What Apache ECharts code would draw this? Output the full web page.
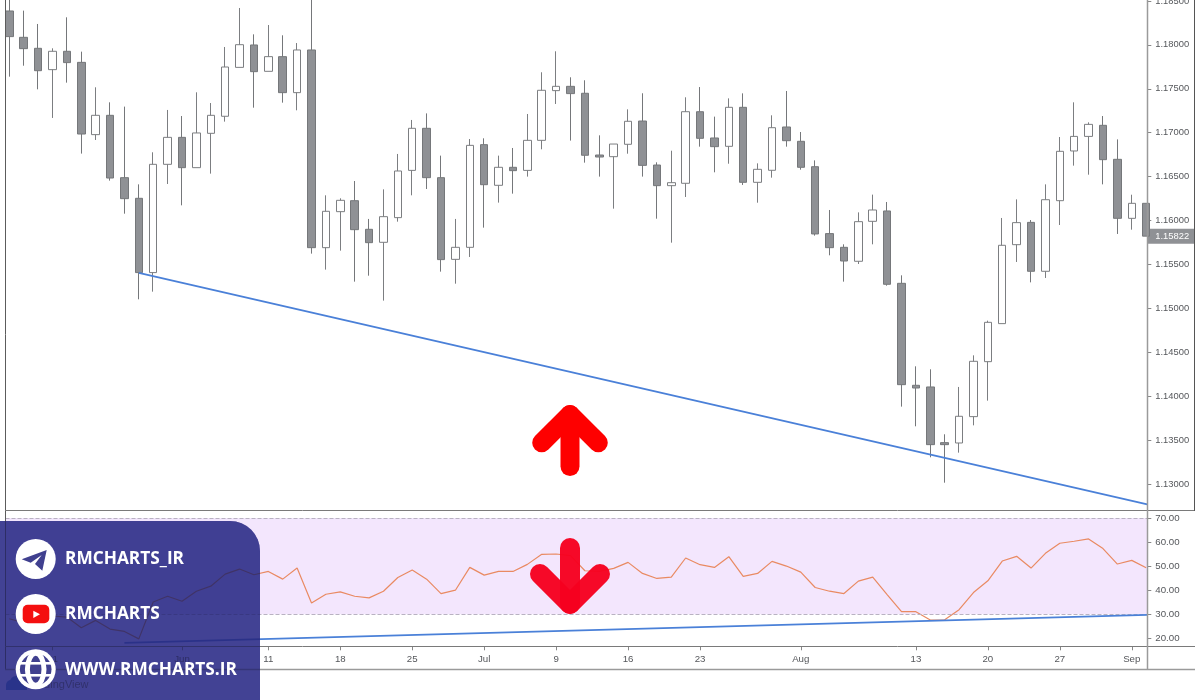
<!DOCTYPE html>
<html><head><meta charset="utf-8">
<style>html,body{margin:0;padding:0;background:#fff}#c{width:1200px;height:700px}</style>
<script src="https://cdn.jsdelivr.net/npm/echarts@6/dist/echarts.min.js"></script>
</head><body><div id="c"></div>
<script>
const opens=[1.18386,1.18086,1.17961,1.17718,1.17927,1.17801,1.16978,1.17198,1.16488,1.16253,
1.15407,1.16640,1.16947,1.16602,1.16993,1.17187,1.17744,1.17999,1.17699,1.17866,
1.17456,1.17942,1.15691,1.16101,1.16226,1.15900,1.15752,1.16033,1.16571,1.17050,
1.16488,1.15558,1.15695,1.16864,1.16401,1.16606,1.16571,1.16913,1.17479,1.17528,
1.17449,1.16746,1.16727,1.16868,1.17133,1.16632,1.16397,1.16424,1.17239,1.16940,
1.16845,1.17289,1.16435,1.16572,1.17065,1.16902,1.16613,1.15851,1.15695,1.15536,
1.15991,1.16109,1.15285,1.14124,1.14105,1.13471,1.13467,1.13767,1.14393,1.14826,
1.15725,1.15979,1.15422,1.16226,1.16792,1.16958,1.17084,1.16697,1.16025,1.16196];
const closes=[1.18094,1.17957,1.17706,1.17927,1.17798,1.16985,1.17198,1.16484,1.16249,1.15407,
1.16640,1.16947,1.16602,1.16997,1.17198,1.17748,1.18002,1.17695,1.17866,1.17456,
1.17942,1.15691,1.16105,1.16230,1.15896,1.15748,1.16044,1.16564,1.17050,1.16488,
1.15555,1.15695,1.16856,1.16408,1.16606,1.16568,1.16913,1.17483,1.17528,1.17445,
1.16743,1.16723,1.16871,1.17130,1.16628,1.16397,1.16431,1.17239,1.16936,1.16841,
1.17289,1.16435,1.16583,1.17057,1.16909,1.16606,1.15847,1.15691,1.15539,1.15987,
1.16120,1.15274,1.14131,1.14093,1.13448,1.13448,1.13771,1.14397,1.14841,1.15718,
1.15976,1.15422,1.16237,1.16788,1.16958,1.17095,1.16693,1.16025,1.16196,1.15822];
const lows=[1.17638,1.17763,1.17494,1.17168,1.17570,1.16762,1.16917,1.16454,1.16078,1.15103,
1.15190,1.16416,1.16173,1.16602,1.16534,1.17126,1.17744,1.17285,1.17699,1.17342,
1.17255,1.15623,1.15441,1.15657,1.15304,1.15372,1.15088,1.15987,1.16287,1.16359,
1.15418,1.15281,1.15585,1.15919,1.16204,1.16306,1.16500,1.16811,1.17327,1.16910,
1.16659,1.16500,1.16135,1.16761,1.16500,1.16021,1.15748,1.16268,1.16841,1.16549,
1.16647,1.16405,1.16203,1.16488,1.16841,1.16579,1.15828,1.15604,1.15304,1.15505,
1.15729,1.15258,1.13881,1.13657,1.13304,1.13015,1.13357,1.13668,1.13949,1.14826,
1.15528,1.15296,1.15346,1.15949,1.16625,1.16522,1.16412,1.15847,1.15896,1.15822];
const highs=[1.18600,1.18390,1.18238,1.17961,1.18314,1.17923,1.17517,1.17346,1.17297,1.16412,
1.16777,1.17259,1.17190,1.17460,1.17338,1.17976,1.18420,1.18120,1.18226,1.18109,
1.18021,1.18600,1.16287,1.16253,1.16450,1.16018,1.16355,1.16758,1.17145,1.17220,
1.16739,1.16018,1.16928,1.16936,1.16739,1.16826,1.17213,1.17688,1.17927,1.17631,
1.17597,1.16970,1.16871,1.17266,1.17449,1.16663,1.16795,1.17403,1.17520,1.17183,
1.17391,1.17448,1.16651,1.17198,1.17475,1.17008,1.16685,1.16120,1.15729,1.16093,
1.16295,1.16211,1.15376,1.14340,1.14306,1.13566,1.14105,1.14465,1.14860,1.16029,
1.16241,1.16006,1.16412,1.16951,1.17346,1.17118,1.17190,1.16924,1.16294,1.16196];
const rsi=[28.13,26.46,28.83,29.25,28.83,24.36,27.43,23.81,22.83,19.76,
35.10,37.48,35.38,39.57,41.66,46.68,48.78,46.40,47.80,44.59,
49.19,34.69,38.31,39.29,37.48,36.78,39.57,45.29,48.36,44.59,
38.59,39.99,49.47,46.26,47.80,47.80,50.73,54.91,55.05,54.36,
48.08,47.80,49.05,51.57,46.96,44.87,45.43,53.38,50.59,49.47,
53.94,45.71,46.96,51.98,50.03,47.52,41.10,39.57,38.59,43.75,
45.43,38.17,31.06,31.06,27.57,27.71,31.90,39.01,43.89,52.12,
54.08,49.19,55.33,59.52,60.35,61.33,57.29,50.87,52.40,49.33];
const timeTickIndex=[3,12,18,23,28,33,38,43,48,55,63,68,73,78];
const timeTickLabels=['21','Jun','11','18','25','Jul','9','16','23','Aug','13','20','27','Sep'];
const priceTicks=[1.13,1.135,1.14,1.145,1.15,1.155,1.16,1.165,1.17,1.175,1.18,1.185];
const rsiTicks=[20,30,40,50,60,70];
const lastPrice=1.15822;
const upperTrend=[[9,1.15403],[79.08,1.12767]];
const lowerTrend=[[8,18.1],[79.08,29.7]];
const rsiBand=[30,70];

const GREY='#7c7e81', TXT='#55575b', XMIN=-0.264, XMAX=79.08, FS=9.4;
const font='"Liberation Sans",Arial,sans-serif';
const xBase={type:'value',min:XMIN,max:XMAX,splitLine:{show:false},axisLine:{show:false,onZero:false}};
const line=(x1,y1,x2,y2,c,w)=>({type:'line',z:20,shape:{x1,y1,x2,y2},style:{stroke:c,lineWidth:w||1}});
const poly=(pts,c,w,op)=>({type:'polyline',z:40,shape:{points:pts},style:{stroke:c,lineWidth:w,lineCap:'round',lineJoin:'round',fill:null,opacity:op||1}});
const label=(t,y)=>({type:'text',z:60,style:{text:t,x:65,y,fill:'#fff',font:'700 17.3px "Open Sans",sans-serif',textVerticalAlign:'middle'}});
const blob=(cx,cy,r)=>({type:'circle',z:30,shape:{cx,cy,r},style:{fill:'#3f8ade'}});

const chart=echarts.init(document.getElementById('c'),null,{renderer:'canvas'});
chart.setOption({
 animation:false,backgroundColor:'#fff',
 grid:[{left:5.5,top:0,width:1141.8,height:510.7,outerBoundsMode:'none'},{left:5.5,top:510.7,width:1141.8,height:135.6,outerBoundsMode:'none'}],
 xAxis:[
  Object.assign({gridIndex:0,axisTick:{show:false},axisLabel:{show:false}},xBase),
  Object.assign({gridIndex:1,
    axisTick:{show:true,length:4,lineStyle:{color:'#888'},customValues:timeTickIndex},
    axisLabel:{show:true,color:TXT,fontSize:FS+0.3,fontFamily:font,margin:8,customValues:timeTickIndex,
      formatter:v=>timeTickLabels[timeTickIndex.indexOf(Math.round(v))]}},xBase)],
 yAxis:[
  {type:'value',gridIndex:0,position:'right',min:1.12696,max:1.18511,scale:true,splitLine:{show:false},axisLine:{show:false,onZero:false},
   axisTick:{show:true,length:4,lineStyle:{color:'#888'},customValues:priceTicks},
   axisLabel:{show:true,margin:0,fontFamily:font,customValues:priceTicks.concat([lastPrice]),
     formatter:v=>Math.abs(v-lastPrice)<1e-7?'{p|'+v.toFixed(5)+'}':'{n|'+v.toFixed(5)+'}',
     rich:{n:{color:TXT,fontSize:FS,fontFamily:font,padding:[0,0,0,8]},
           p:{color:'#fff',fontSize:FS,fontFamily:font,backgroundColor:'#8f9195',padding:[3,5,3,8],width:34}}}},
  {type:'value',gridIndex:1,position:'right',min:16.66,max:73.05,splitLine:{show:false},axisLine:{show:false,onZero:false},
   axisTick:{show:true,length:4,lineStyle:{color:'#888'},customValues:rsiTicks},
   axisLabel:{show:true,color:TXT,fontSize:FS+0.3,fontFamily:font,margin:8,customValues:rsiTicks,formatter:v=>v.toFixed(2)}}],
 series:[
  {type:'candlestick',xAxisIndex:0,yAxisIndex:0,barWidth:8,
   data:opens.map((o,i)=>[i,o,closes[i],lows[i],highs[i]]),
   itemStyle:{color:'#ffffff',color0:'#8f9195',borderColor:GREY,borderColor0:'#75777a',borderWidth:1}},
  {type:'line',xAxisIndex:0,yAxisIndex:0,data:upperTrend,symbol:'none',z:5,lineStyle:{color:'#4a80d8',width:1.8}},
  {type:'line',xAxisIndex:1,yAxisIndex:1,data:rsi.map((v,i)=>[i,v]),symbol:'none',z:4,lineStyle:{color:'#e98a62',width:1.2},
   markArea:{silent:true,itemStyle:{color:'#f3e6fd'},data:[[{yAxis:rsiBand[0]},{yAxis:rsiBand[1]}]]},
   markLine:{silent:true,symbol:'none',label:{show:false},lineStyle:{color:'#b9b2c2',type:'dashed',width:1},data:rsiBand.map(v=>({yAxis:v}))}},
  {type:'line',xAxisIndex:1,yAxisIndex:1,data:lowerTrend,symbol:'none',z:5,lineStyle:{color:'#4a80d8',width:1.8}}
 ],
 graphic:[
  line(5.5,0,5.5,669,'#5c5c5c'),
  line(5,510.5,1195,510.5,'#7a7a7a'),
  line(5,646.5,1195,646.5,'#7a7a7a'),
  line(5,669.5,1195,669.5,'#9a9a9a',1.5),
  line(1147.5,0,1147.5,669,'#9a9a9a',1.5),
  line(1194.5,0,1194.5,511,'#555'),
  blob(11,685,5),blob(16,682,6),blob(22,685,5),
  {type:'rect',z:30,shape:{x:6,y:685,width:21,height:5},style:{fill:'#3f8ade'}},
  {type:'text',z:30,style:{text:'TradingView',x:28,y:685,fill:'#777',font:'11px "Liberation Sans",sans-serif',textVerticalAlign:'middle'}},
  poly([[541.7,442.8],[570,414.5],[598.3,442.8]],'#fe0000',19),
  poly([[570,414.5],[570,466.5]],'#fe0000',19),
  poly([[540,574],[570,604],[600,574]],'#f6001f',20,0.96),
  poly([[570,604],[570,548]],'#f6001f',20,0.96),
  {type:'rect',z:50,shape:{x:0,y:521,width:260,height:179,r:[0,30,0,0]},style:{fill:'#424294',blend:'multiply'}},
  {type:'rect',z:51,shape:{x:0,y:521,width:260,height:179,r:[0,30,0,0]},style:{fill:'#424294',opacity:0.5}},
  {type:'circle',z:55,shape:{cx:35.7,cy:559,r:20},style:{fill:'#fff'}},
  {type:'polygon',z:56,shape:{points:[[46.7,550],[21.7,559.3],[30.7,562.7],[41.7,555],[35,564],[42.3,570.7]]},style:{fill:'#40408f'}},
  {type:'circle',z:55,shape:{cx:35.7,cy:614,r:20},style:{fill:'#fff'}},
  {type:'rect',z:56,shape:{x:22.7,y:604.7,width:26.6,height:18.6,r:5},style:{fill:'#f40f0f'}},
  {type:'polygon',z:57,shape:{points:[[33.3,610.7],[33.3,618],[40,614.3]]},style:{fill:'#fff'}},
  {type:'circle',z:55,shape:{cx:35.7,cy:669.3,r:20},style:{fill:'#fff'}},
  {type:'circle',z:56,shape:{cx:35.7,cy:669.3,r:15.8},style:{fill:'#40408f'}},
  {type:'ellipse',z:57,shape:{cx:35.7,cy:669.3,rx:8.3,ry:16},style:{fill:null,stroke:'#fff',lineWidth:5}},
  {type:'line',z:57,shape:{x1:20,y1:663.3,x2:51.4,y2:663.3},style:{stroke:'#fff',lineWidth:2.6}},
  {type:'line',z:57,shape:{x1:20,y1:675.3,x2:51.4,y2:675.3},style:{stroke:'#fff',lineWidth:2.6}},
  label('RMCHARTS_IR',559.5),label('RMCHARTS',614.5),label('WWW.RMCHARTS.IR',670)
 ]
});
</script></body></html>
